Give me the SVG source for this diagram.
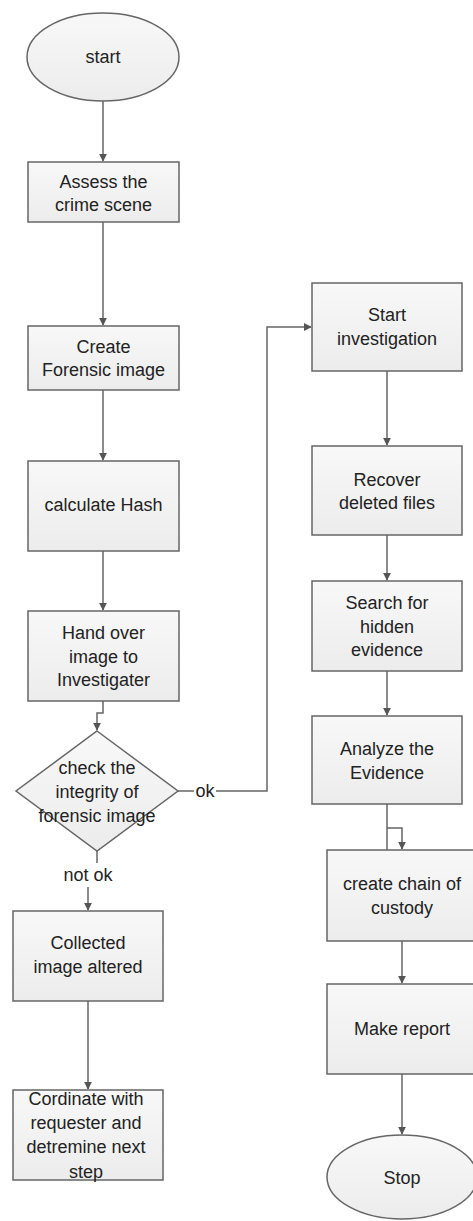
<svg xmlns="http://www.w3.org/2000/svg" width="473" height="1221" viewBox="0 0 473 1221">
<defs>
<linearGradient id="g" x1="0" y1="0" x2="0" y2="1">
<stop offset="0" stop-color="#f8f8f8"/>
<stop offset="1" stop-color="#ececec"/>
</linearGradient>
<marker id="arr" viewBox="0 0 10 10" refX="9" refY="5" markerWidth="8" markerHeight="8" markerUnits="userSpaceOnUse" orient="auto">
<path d="M0,0 L10,5 L0,10 Z" fill="#555"/>
</marker>
</defs>
<style>
.s{fill:url(#g);stroke:#666;stroke-width:1.5}
.t{font-family:"Liberation Sans",Arial,sans-serif;font-size:18px;fill:#222;text-anchor:middle;dominant-baseline:central}
.c{fill:none;stroke:#666;stroke-width:1.5}
</style>
<rect width="473" height="1221" fill="#fff"/>
<g id="connectors">
<path class="c" d="M103,101 V161" marker-end="url(#arr)"/>
<path class="c" d="M103,222 V325" marker-end="url(#arr)"/>
<path class="c" d="M103,390 V460" marker-end="url(#arr)"/>
<path class="c" d="M103,551 V610" marker-end="url(#arr)"/>
<path class="c" d="M103,701 V713 H97 V730" marker-end="url(#arr)"/>
<path class="c" d="M178,791 H194"/>
<path class="c" d="M216,791 H267 V327 H311" marker-end="url(#arr)"/>
<text class="t" x="205" y="791">ok</text>
<path class="c" d="M97,851 V863"/>
<text class="t" x="88" y="875">not ok</text>
<path class="c" d="M88,887 V910" marker-end="url(#arr)"/>
<path class="c" d="M88,1001 V1089" marker-end="url(#arr)"/>
<path class="c" d="M387,371 V445" marker-end="url(#arr)"/>
<path class="c" d="M387,535 V580" marker-end="url(#arr)"/>
<path class="c" d="M387,671 V715" marker-end="url(#arr)"/>
<path class="c" d="M387,804 V850"/>
<path class="c" d="M387,828 H402 V849" marker-end="url(#arr)"/>
<path class="c" d="M402,941 V983" marker-end="url(#arr)"/>
<path class="c" d="M402,1074 V1134" marker-end="url(#arr)"/>
</g>
<g id="start">
<ellipse class="s" cx="103" cy="57" rx="76" ry="44"/>
<text class="t" x="103" y="57">start</text>
</g>
<g id="assess">
<rect class="s" x="28" y="162" width="151" height="60"/>
<text class="t" x="103.5" y="182">Assess the</text>
<text class="t" x="103.5" y="205">crime scene</text>
</g>
<g id="create">
<rect class="s" x="28" y="326" width="151" height="64"/>
<text class="t" x="103.5" y="347">Create</text>
<text class="t" x="103.5" y="370">Forensic image</text>
</g>
<g id="hash">
<rect class="s" x="28" y="461" width="151" height="90"/>
<text class="t" x="103.5" y="505">calculate Hash</text>
</g>
<g id="handover">
<rect class="s" x="28" y="611" width="151" height="90"/>
<text class="t" x="103.5" y="633">Hand over</text>
<text class="t" x="103.5" y="657">image to</text>
<text class="t" x="103.5" y="680">Investigater</text>
</g>
<g id="check">
<polygon class="s" points="97,731 178,791 97,851 16,791"/>
<text class="t" x="97" y="768">check the</text>
<text class="t" x="97" y="792">integrity of</text>
<text class="t" x="97" y="816">forensic image</text>
</g>
<g id="altered">
<rect class="s" x="13" y="911" width="150" height="90"/>
<text class="t" x="88" y="943">Collected</text>
<text class="t" x="88" y="967">image altered</text>
</g>
<g id="cordinate">
<rect class="s" x="13" y="1090" width="150" height="90"/>
<text class="t" x="86" y="1099">Cordinate with</text>
<text class="t" x="86" y="1123">requester and</text>
<text class="t" x="86" y="1147">detremine next</text>
<text class="t" x="86" y="1172">step</text>
</g>
<g id="startinv">
<rect class="s" x="312" y="283" width="150" height="88"/>
<text class="t" x="387" y="315">Start</text>
<text class="t" x="387" y="339">investigation</text>
</g>
<g id="recover">
<rect class="s" x="312" y="446" width="150" height="89"/>
<text class="t" x="387" y="480">Recover</text>
<text class="t" x="387" y="503">deleted files</text>
</g>
<g id="search">
<rect class="s" x="312" y="581" width="150" height="90"/>
<text class="t" x="387" y="603">Search for</text>
<text class="t" x="387" y="627">hidden</text>
<text class="t" x="387" y="650">evidence</text>
</g>
<g id="analyze">
<rect class="s" x="312" y="716" width="150" height="88"/>
<text class="t" x="387" y="749">Analyze the</text>
<text class="t" x="387" y="773">Evidence</text>
</g>
<g id="chain">
<rect class="s" x="327" y="850" width="150" height="91"/>
<text class="t" x="402" y="884">create chain of</text>
<text class="t" x="402" y="908">custody</text>
</g>
<g id="report">
<rect class="s" x="327" y="984" width="150" height="90"/>
<text class="t" x="402" y="1029">Make report</text>
</g>
<g id="stop">
<ellipse class="s" cx="402" cy="1177" rx="75" ry="42"/>
<text class="t" x="402" y="1178">Stop</text>
</g>
</svg>
